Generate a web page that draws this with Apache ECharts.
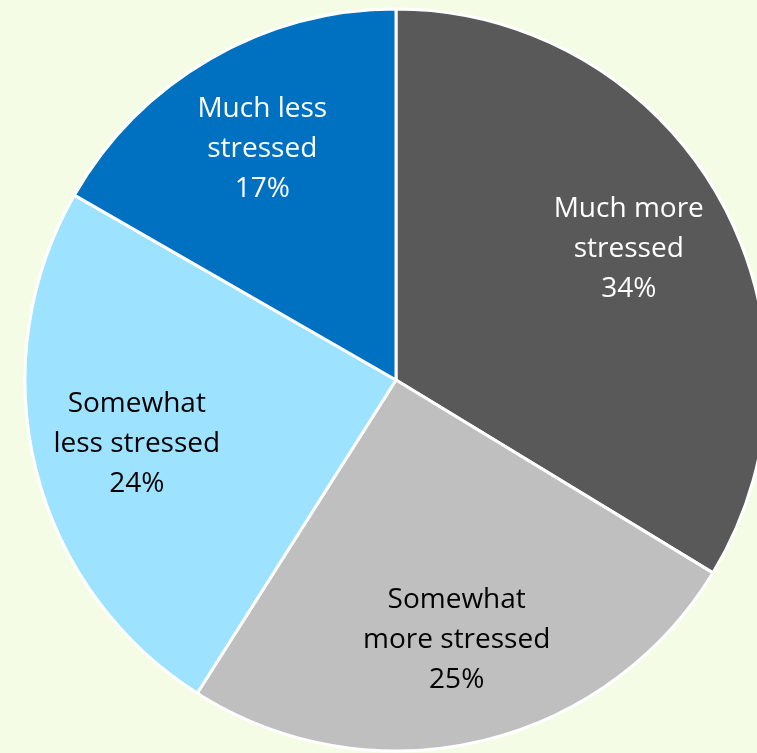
<!DOCTYPE html>
<html>
<head>
<meta charset="utf-8">
<script src="https://cdn.jsdelivr.net/npm/echarts@6/dist/echarts.min.js"></script>
<style>
html,body{margin:0;padding:0;background:#F5FCE6;}
#main{width:757px;height:753px;}
</style>
</head>
<body>
<div id="main"></div>
<script>
// pie data, clockwise from 12 o'clock (shares)
var categories = ['Much more\nstressed', 'Somewhat\nmore stressed', 'Somewhat\nless stressed', 'Much less\nstressed'];
var values = [33.7, 25.3, 24.3, 16.7];
var sliceColors = ['#595959', '#BFBFBF', '#9DE3FF', '#0070C0'];
var labelColors = ['#FFFFFF', '#000000', '#000000', '#FFFFFF'];

var pieData = [];
var labelData = [];
for (var i = 0; i < categories.length; i++) {
	pieData.push({
		name: categories[i],
		value: values[i],
		itemStyle: {color: sliceColors[i]}
	});
	labelData.push({
		name: categories[i],
		value: values[i],
		label: {color: labelColors[i]}
	});
}

var myChart = echarts.init(document.getElementById('main'));
var option = {
	backgroundColor: '#F5FCE6',
	animation: false,
	series: [
		{
			type: 'pie',
			center: [396, 380],
			radius: [0, 371],
			startAngle: 90,
			clockwise: true,
			label: {show: false},
			labelLine: {show: false},
			itemStyle: {borderColor: '#FFFFFF', borderWidth: 3},
			data: pieData
		},
		{
			// invisible ring only used to place the labels further out
			type: 'pie',
			silent: true,
			center: [396, 380],
			radius: [157, 371],
			startAngle: 90,
			clockwise: true,
			itemStyle: {color: 'rgba(0,0,0,0)'},
			labelLine: {show: false},
			label: {
				show: true,
				position: 'inside',
				fontFamily: 'Open Sans',
				fontSize: 28,
				lineHeight: 40,
				align: 'center',
				formatter: function (p) {
					return p.name + '\n' + Math.round(p.value) + '%';
				}
			},
			data: labelData
		}
	]
};
myChart.setOption(option);
</script>
</body>
</html>
